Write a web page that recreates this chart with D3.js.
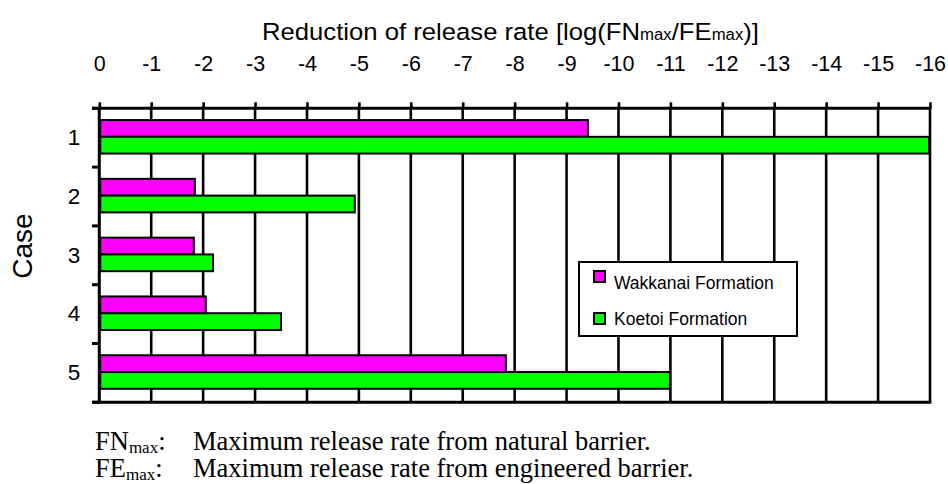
<!DOCTYPE html>
<html><head><meta charset="utf-8">
<script src="https://cdn.jsdelivr.net/npm/d3@7"></script>
<style>body{margin:0;background:#fff}svg{display:block}</style>
</head><body>
<script>
const cases = ["1","2","3","4","5"];
const seriesNames = ["Wakkanai Formation","Koetoi Formation"];
const wakkanai = [-9.43,-1.86,-1.84,-2.07,-7.85];
const koetoi = [-16,-4.94,-2.21,-3.52,-11.01];
const xTicks = d3.range(0,-17,-1);
const colors = ["#ff00ff","#00ff00"];

(function(){
const W=948,H=484;
const svg=d3.select("body").append("svg").attr("width",W).attr("height",H);
const pL=99.3,pR=930,pT=108.3,pB=402.3;
const x=d3.scaleLinear().domain([0,-16]).range([pL,pR]);
const y=d3.scaleBand().domain(cases).range([pT,pB]).padding(0);
const sub=d3.scaleBand().domain(seriesNames).range([y.step()*0.2, y.step()*0.77]).padding(0);
const sans="Liberation Sans, Arial, sans-serif", serif="Liberation Serif, Times New Roman, serif";

// gridlines
svg.append("g").selectAll("line").data(xTicks.slice(1)).join("line")
  .attr("x1",d=>x(d)).attr("x2",d=>x(d)).attr("y1",pT).attr("y2",pB)
  .attr("stroke","#000").attr("stroke-width",2.6);

// bars
const data=[];
cases.forEach((c,i)=>{data.push({c,s:seriesNames[0],v:wakkanai[i],k:0});data.push({c,s:seriesNames[1],v:koetoi[i],k:1});});
svg.append("g").selectAll("rect").data(data).join("rect")
  .attr("x",x(0)+1).attr("y",d=>y(d.c)+sub(d.s))
  .attr("width",d=>x(d.v)-x(0)-2).attr("height",sub.bandwidth())
  .attr("fill",d=>colors[d.k]).attr("stroke","#000").attr("stroke-width",2);

// top axis
const ax=svg.append("g").attr("transform",`translate(0,${pT})`)
  .call(d3.axisTop(x).tickValues(xTicks).tickFormat(d=>d===0?"0":String(d)).tickSize(6).tickPadding(31));
ax.select(".domain").remove();
ax.selectAll(".tick line").attr("stroke","#000").attr("stroke-width",2.6);
ax.selectAll(".tick text").attr("font-family",sans).attr("font-size",21.5).attr("fill","#000");
svg.append("line").attr("x1",92).attr("x2",pR+1.3).attr("y1",pT).attr("y2",pT).attr("stroke","#000").attr("stroke-width",3);

// left axis
const ay=svg.append("g").attr("transform",`translate(${pL},0)`)
  .call(d3.axisLeft(y).tickSize(0).tickPadding(19));
ay.select(".domain").remove();
ay.selectAll(".tick text").attr("font-family",sans).attr("font-size",22.5).attr("fill","#000");
const bounds=cases.map(c=>y(c)).concat([pB]);
svg.append("g").selectAll("line").data(bounds).join("line")
  .attr("x1",92).attr("x2",pL).attr("y1",d=>d).attr("y2",d=>d).attr("stroke","#000").attr("stroke-width",3);
svg.append("line").attr("x1",pL).attr("x2",pL).attr("y1",pT).attr("y2",pB).attr("stroke","#000").attr("stroke-width",3);
svg.append("line").attr("x1",92).attr("x2",pR+1.3).attr("y1",pB).attr("y2",pB).attr("stroke","#000").attr("stroke-width",3);

// title
const t=svg.append("text").attr("x",262).attr("y",40)
  .attr("textLength",497).attr("lengthAdjust","spacingAndGlyphs")
  .attr("font-family",sans).attr("font-size",24.5).attr("fill","#000");
t.append("tspan").text("Reduction of release rate [log(FN");
t.append("tspan").attr("font-size",16).text("max");
t.append("tspan").text("/FE");
t.append("tspan").attr("font-size",16).text("max");
t.append("tspan").text(")]");

// y title
svg.append("text").attr("transform","translate(32,246) rotate(-90)").attr("text-anchor","middle")
  .attr("font-family",sans).attr("font-size",28).attr("fill","#000").text("Case");

// legend
const lg=svg.append("g");
lg.append("rect").attr("x",579).attr("y",262).attr("width",218).attr("height",74).attr("fill","#fff").attr("stroke","#000").attr("stroke-width",2);
const sqY=[271,313], txY=[289,325];
seriesNames.forEach((n,i)=>{
  lg.append("rect").attr("x",594).attr("y",sqY[i]).attr("width",11).attr("height",11).attr("fill",colors[i]).attr("stroke","#000").attr("stroke-width",2);
  lg.append("text").attr("x",614).attr("y",txY[i]).attr("font-family",sans).attr("font-size",17.5).attr("fill","#000").text(n);
});

// notes
const notes=[["FN","Maximum release rate from natural barrier."],["FE","Maximum release rate from engineered barrier."]];
notes.forEach((nt,i)=>{
  const yy=450+i*27;
  const a=svg.append("text").attr("x",95).attr("y",yy).attr("font-family",serif).attr("font-size",26.5).attr("fill","#000");
  a.append("tspan").text(nt[0]);
  a.append("tspan").attr("font-size",17).attr("dy",3).text("max");
  a.append("tspan").attr("dy",-3).text(":");
  svg.append("text").attr("x",193).attr("y",yy).attr("font-family",serif).attr("font-size",26.5).attr("fill","#000").text(nt[1]);
});
})();
</script>
</body></html>
